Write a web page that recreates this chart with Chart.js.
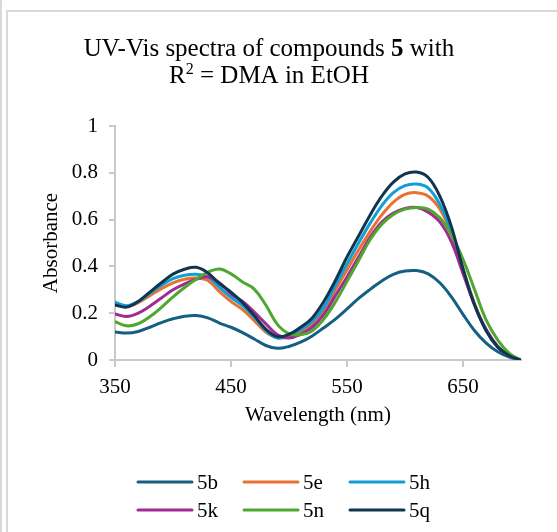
<!DOCTYPE html>
<html>
<head>
<meta charset="utf-8">
<script src="https://cdn.jsdelivr.net/npm/chart.js@4.4.1/dist/chart.umd.min.js"></script>
<style>
  html, body { margin: 0; padding: 0; background: #fff; }
  #wrap { position: relative; width: 557px; height: 532px; overflow: hidden; }
  .edge { position: absolute; left: 0; top: 0; width: 2px; height: 532px; background: #d9d9d9; }
  .frame { position: absolute; left: 6px; top: 10px; width: 640px; height: 640px; border: 2px solid #d9d9d9; box-sizing: border-box; }
  canvas { position: absolute; left: 0; top: 0; }
</style>
</head>
<body>
<div id="wrap">
  <div class="edge"></div>
  <div class="frame"></div>
  <canvas id="chart" width="557" height="532"></canvas>
</div>
<script>
// wavelength grid (nm)
const wavelengths = [350, 360, 370, 380, 390, 400, 410, 420, 430, 440,
  450, 460, 470, 480, 490, 500, 510, 520, 530, 540,
  550, 560, 570, 580, 590, 600, 610, 620, 630, 640,
  650, 660, 670, 680, 690, 700];

// absorbance per compound
const abs5b = [0.120, 0.115, 0.122, 0.140, 0.160, 0.176, 0.187, 0.190, 0.180, 0.158,
  0.140, 0.117, 0.090, 0.062, 0.050, 0.058, 0.076, 0.103, 0.138, 0.175,
  0.218, 0.263, 0.302, 0.338, 0.366, 0.380, 0.382, 0.368, 0.330, 0.270,
  0.195, 0.125, 0.072, 0.035, 0.012, 0.000];
const abs5e = [0.240, 0.228, 0.245, 0.275, 0.305, 0.330, 0.345, 0.350, 0.340, 0.292,
  0.250, 0.215, 0.168, 0.120, 0.095, 0.100, 0.122, 0.155, 0.215, 0.300,
  0.385, 0.470, 0.550, 0.620, 0.675, 0.708, 0.715, 0.700, 0.645, 0.540,
  0.390, 0.240, 0.128, 0.056, 0.018, 0.000];
const abs5h = [0.247, 0.232, 0.250, 0.285, 0.320, 0.348, 0.362, 0.366, 0.355, 0.310,
  0.268, 0.232, 0.183, 0.127, 0.094, 0.105, 0.130, 0.165, 0.225, 0.318,
  0.410, 0.500, 0.585, 0.660, 0.715, 0.745, 0.752, 0.735, 0.665, 0.550,
  0.385, 0.235, 0.125, 0.055, 0.018, 0.000];
const abs5k = [0.197, 0.186, 0.200, 0.230, 0.265, 0.300, 0.325, 0.345, 0.355, 0.330,
  0.283, 0.250, 0.205, 0.155, 0.108, 0.094, 0.110, 0.140, 0.195, 0.275,
  0.355, 0.440, 0.525, 0.590, 0.628, 0.648, 0.652, 0.632, 0.590, 0.505,
  0.370, 0.235, 0.130, 0.058, 0.018, 0.000];
const abs5n = [0.164, 0.146, 0.155, 0.185, 0.225, 0.270, 0.310, 0.345, 0.375, 0.389,
  0.368, 0.333, 0.303, 0.235, 0.152, 0.112, 0.108, 0.125, 0.175, 0.248,
  0.336, 0.425, 0.515, 0.580, 0.622, 0.645, 0.652, 0.645, 0.608, 0.535,
  0.430, 0.300, 0.170, 0.085, 0.028, 0.000];
const abs5q = [0.235, 0.226, 0.250, 0.290, 0.330, 0.367, 0.388, 0.396, 0.372, 0.327,
  0.290, 0.245, 0.190, 0.132, 0.100, 0.110, 0.140, 0.180, 0.250, 0.340,
  0.440, 0.530, 0.620, 0.700, 0.760, 0.795, 0.803, 0.780, 0.700, 0.570,
  0.390, 0.235, 0.125, 0.055, 0.018, 0.000];

const seriesNames = ["5b", "5e", "5h", "5k", "5n", "5q"];
const seriesValues = [abs5b, abs5e, abs5h, abs5k, abs5n, abs5q];
const seriesColors = ["#156082", "#E97132", "#0F9ED5", "#A02B93", "#4EA72E", "#12354f"];

const xTicks = [350, 450, 550, 650];

// title runs: [text, style]
const titleLines = [
  [["UV-Vis spectra of compounds ", "normal"], ["5", "bold"], [" with", "normal"]],
  [["R", "normal"], ["2", "sup"], [" = DMA in EtOH", "normal"]],
];

const SERIF = "'Liberation Serif', 'Times New Roman', serif";
const AXIS_GRAY = "#c9c9c9";

// two-line title with a bold run and a superscript
const richTitle = {
  id: "richTitle",
  afterDraw(chart) {
    const ctx = chart.ctx;
    const baselines = [56, 83];
    const cx = 269;
    const fontFor = (style) =>
      style === "bold" ? `bold 25px ${SERIF}` : style === "sup" ? `16px ${SERIF}` : `25px ${SERIF}`;
    ctx.save();
    ctx.fillStyle = "#000";
    ctx.textBaseline = "alphabetic";
    ctx.textAlign = "left";
    titleLines.forEach((runs, i) => {
      let total = 0;
      runs.forEach(([t, s]) => { ctx.font = fontFor(s); total += ctx.measureText(t).width; });
      let x = cx - total / 2;
      runs.forEach(([t, s]) => {
        ctx.font = fontFor(s);
        ctx.fillText(t, x, s === "sup" ? baselines[i] - 9 : baselines[i]);
        x += ctx.measureText(t).width;
      });
    });
    ctx.restore();
  },
};

// legend as short line samples, 3 per row
const lineLegend = {
  id: "lineLegend",
  afterDraw(chart) {
    const ctx = chart.ctx;
    const cols = [138, 244, 350];
    const rows = [482, 510];
    ctx.save();
    ctx.font = `21px ${SERIF}`;
    ctx.textBaseline = "middle";
    ctx.fillStyle = "#000";
    chart.data.datasets.forEach((ds, i) => {
      const x = cols[i % 3];
      const y = rows[Math.floor(i / 3)];
      ctx.strokeStyle = ds.borderColor;
      ctx.lineWidth = 3;
      ctx.lineCap = "round";
      ctx.beginPath();
      ctx.moveTo(x, y);
      ctx.lineTo(x + 54, y);
      ctx.stroke();
      ctx.fillText(ds.label, x + 59, y + 1);
    });
    ctx.restore();
  },
};

const datasets = seriesNames.map((name, i) => ({
  label: name,
  data: wavelengths.map((w, j) => ({ x: w, y: seriesValues[i][j] })),
  borderColor: seriesColors[i],
  backgroundColor: seriesColors[i],
  borderWidth: 3,
  borderCapStyle: "round",
  borderJoinStyle: "round",
  pointRadius: 0,
  tension: 0.4,
  order: seriesNames.length - i, // later series on top
}));

new Chart(document.getElementById("chart"), {
  type: "line",
  data: { datasets },
  plugins: [richTitle, lineLegend],
  options: {
    responsive: false,
    animation: false,
    layout: { padding: { top: 126, right: 36, bottom: 102, left: 0 } },
    plugins: { legend: { display: false }, tooltip: { enabled: false } },
    scales: {
      x: {
        type: "linear",
        min: 350,
        max: 700,
        afterBuildTicks: (axis) => { axis.ticks = xTicks.map((v) => ({ value: v })); },
        afterFit: (scale) => { scale.height = 70; },
        grid: { display: true, drawOnChartArea: false, drawTicks: true, tickLength: 7, color: AXIS_GRAY, lineWidth: 2 },
        border: { display: true, color: AXIS_GRAY, width: 2 },
        ticks: { color: "#000", font: { family: SERIF, size: 21 }, padding: 8, maxRotation: 0 },
        title: { display: true, text: "Wavelength (nm)", color: "#000", font: { family: SERIF, size: 21 }, padding: { top: 0, bottom: 2 } },
      },
      y: {
        min: 0,
        max: 1,
        ticks: {
          stepSize: 0.2,
          color: "#000",
          font: { family: SERIF, size: 21 },
          padding: 11,
          callback: (v) => String(Number(v.toFixed(1))),
        },
        afterFit: (scale) => { scale.width = 115; },
        grid: { display: true, drawOnChartArea: false, drawTicks: true, tickLength: 6, color: AXIS_GRAY, lineWidth: 2 },
        border: { display: true, color: AXIS_GRAY, width: 2 },
        title: { display: true, text: "Absorbance", color: "#000", font: { family: SERIF, size: 21 }, padding: { top: 39, bottom: 0 } },
      },
    },
  },
});
</script>
</body>
</html>
